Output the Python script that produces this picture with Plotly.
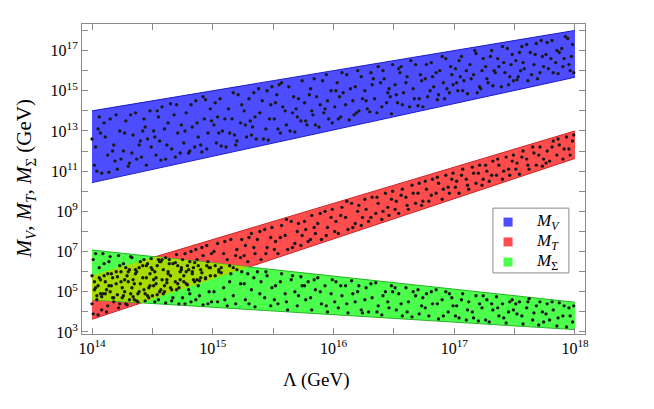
import numpy as np
import plotly.graph_objects as go

# band ends in log10(Lambda / GeV) and log10(M / GeV)
lam_ends = [14.0, 18.0]
mv_lo = [10.43, 15.67]
mv_hi = [14.0, 18.0]
mt_lo = [3.63, 11.63]
mt_hi = [5.8, 13.0]
ms_lo = [4.6, 3.12]
ms_hi = [7.08, 4.48]

# scan points (log10 Lambda, log10 M)
mv_pts = [
    (14.02, 11.3), (14.05, 13.1), (14.03, 12.2), (14.08, 10.9), (14.11, 12.7), (14.13, 11.8),
    (14.15, 13.6), (14.18, 12.3), (14.21, 11.1), (14.23, 13.0), (14.06, 13.7), (14.19, 11.5),
    (14.26, 12.0), (14.28, 13.5), (14.31, 11.4), (14.34, 12.8), (14.36, 13.9), (14.39, 12.3),
    (14.41, 11.7), (14.44, 13.2), (14.46, 12.6), (14.48, 14.0), (14.33, 11.9), (14.43, 13.6),
    (14.51, 13.0), (14.53, 11.8), (14.56, 12.5), (14.58, 14.2), (14.61, 11.6), (14.63, 13.4),
    (14.66, 12.1), (14.68, 13.8), (14.71, 12.9), (14.73, 11.9), (14.55, 13.7), (14.70, 14.3),
    (14.76, 12.4), (14.78, 13.9), (14.81, 12.0), (14.83, 13.2), (14.86, 14.5), (14.88, 12.7),
    (14.91, 11.95), (14.93, 13.6), (14.96, 12.9), (14.98, 14.1), (14.85, 12.2), (14.94, 14.55),
    (15.01, 13.3), (15.03, 12.4), (15.06, 14.6), (15.08, 13.0), (15.11, 12.2), (15.13, 14.1),
    (15.16, 13.6), (15.18, 12.8), (15.21, 14.8), (15.23, 13.4), (15.05, 12.9), (15.19, 12.3),
    (15.26, 14.0), (15.28, 12.7), (15.31, 13.5), (15.34, 14.9), (15.36, 12.6), (15.39, 13.9),
    (15.41, 14.5), (15.44, 13.1), (15.46, 12.55), (15.48, 14.3), (15.33, 13.2), (15.45, 15.0),
    (15.51, 13.6), (15.53, 14.8), (15.56, 12.9), (15.58, 14.2), (15.61, 13.3), (15.63, 15.2),
    (15.66, 13.9), (15.68, 12.95), (15.71, 14.6), (15.73, 13.5), (15.55, 15.3), (15.69, 14.1),
    (15.76, 14.4), (15.78, 13.3), (15.81, 15.1), (15.83, 13.8), (15.86, 14.7), (15.88, 13.2),
    (15.91, 15.5), (15.93, 14.1), (15.96, 13.6), (15.98, 15.0), (15.84, 15.6), (15.95, 14.5),
    (16.01, 14.2), (16.03, 15.4), (16.06, 13.7), (16.08, 14.9), (16.11, 15.8), (16.13, 13.55),
    (16.16, 14.5), (16.18, 15.2), (16.21, 14.0), (16.23, 15.7), (16.05, 14.7), (16.19, 13.9),
    (16.26, 15.0), (16.28, 14.1), (16.31, 15.9), (16.34, 14.6), (16.36, 13.9), (16.39, 15.4),
    (16.41, 16.0), (16.44, 14.4), (16.46, 15.1), (16.48, 13.85), (16.33, 15.6), (16.45, 14.9),
    (16.51, 15.3), (16.53, 14.4), (16.56, 16.2), (16.58, 14.9), (16.61, 15.7), (16.63, 14.2),
    (16.66, 15.1), (16.68, 16.3), (16.71, 14.6), (16.73, 15.5), (16.55, 15.9), (16.70, 14.25),
    (16.76, 15.6), (16.78, 14.7), (16.81, 16.4), (16.83, 15.2), (16.86, 14.55), (16.88, 16.0),
    (16.91, 15.4), (16.93, 16.6), (16.96, 14.9), (16.98, 15.8), (16.85, 15.9), (16.94, 15.1),
    (17.01, 16.1), (17.03, 15.0), (17.06, 16.7), (17.08, 15.5), (17.11, 14.85), (17.13, 16.3),
    (17.16, 15.8), (17.18, 16.85), (17.21, 15.2), (17.23, 16.0), (17.05, 15.7), (17.19, 14.9),
    (17.26, 16.2), (17.28, 15.4), (17.31, 17.0), (17.34, 15.9), (17.36, 16.6), (17.39, 15.2),
    (17.41, 16.4), (17.44, 17.1), (17.46, 15.7), (17.48, 16.8), (17.33, 16.0), (17.45, 15.3),
    (17.51, 16.5), (17.53, 15.7), (17.56, 17.2), (17.58, 16.1), (17.61, 15.5), (17.63, 16.9),
    (17.66, 16.3), (17.68, 17.35), (17.71, 15.9), (17.73, 16.7), (17.55, 16.0), (17.69, 15.6),
    (17.76, 16.8), (17.78, 16.1), (17.81, 17.5), (17.84, 16.4), (17.86, 15.85), (17.89, 17.1),
    (17.91, 16.6), (17.94, 17.6), (17.96, 16.0), (17.98, 17.3), (17.85, 17.0), (17.95, 16.3),
    (14.00, 12.6), (14.04, 11.0), (14.07, 12.9), (14.10, 13.4), (14.14, 10.95), (14.17, 12.0),
    (14.20, 13.8), (14.24, 11.6), (14.27, 12.9), (14.30, 11.25), (14.32, 13.8), (14.37, 11.6),
    (14.40, 12.5), (14.42, 13.0), (14.45, 11.3), (14.49, 12.2), (14.52, 12.7), (14.54, 14.0),
    (14.57, 11.55), (14.60, 13.1), (14.62, 12.3), (14.65, 14.35), (14.69, 11.7), (14.74, 13.3),
    (14.77, 13.0), (14.80, 11.9), (14.82, 14.3), (14.87, 13.4), (14.90, 12.3), (14.92, 14.7),
    (14.95, 12.1), (14.99, 13.5), (15.02, 14.4), (15.04, 13.7), (15.07, 12.25), (15.10, 13.6),
    (15.14, 12.9), (15.17, 14.9), (15.20, 12.5), (15.24, 14.3), (15.27, 13.3), (15.30, 14.6),
    (15.32, 12.8), (15.35, 13.7), (15.38, 15.1), (15.42, 12.6), (15.47, 13.6), (15.49, 15.2),
    (15.52, 14.4), (15.54, 13.1), (15.57, 15.4), (15.60, 14.0), (15.64, 13.0), (15.67, 14.7),
    (15.70, 13.7), (15.74, 15.5), (15.77, 13.5), (15.80, 14.8), (15.82, 14.0), (15.85, 13.3),
    (15.89, 14.3), (15.92, 13.9), (15.94, 15.8), (15.99, 13.4), (16.02, 15.0), (16.04, 13.6),
    (16.07, 15.9), (16.10, 14.3), (16.14, 15.1), (16.17, 13.8), (16.20, 16.0), (16.24, 14.6),
    (16.27, 14.5), (16.30, 13.95), (16.32, 15.3), (16.37, 16.2), (16.40, 14.2), (16.42, 15.6),
    (16.47, 14.7), (16.49, 16.3), (16.52, 14.8), (16.54, 16.1), (16.57, 14.3), (16.60, 15.4),
    (16.64, 16.5), (16.67, 14.6), (16.72, 15.8), (16.74, 14.2), (16.77, 16.3), (16.80, 15.0),
    (16.82, 15.7), (16.87, 14.8), (16.90, 16.7), (16.92, 14.6), (16.97, 16.2), (16.99, 15.3),
    (17.02, 15.4), (17.04, 16.5), (17.07, 15.0), (17.10, 16.0), (17.14, 15.6), (17.17, 17.0),
    (17.22, 15.1), (17.24, 16.6), (17.27, 15.6), (17.30, 16.7), (17.32, 15.25), (17.37, 16.2),
    (17.40, 17.2), (17.42, 15.9), (17.47, 16.3), (17.49, 15.5), (17.52, 15.55), (17.54, 16.9),
    (17.57, 16.4), (17.60, 17.3), (17.64, 15.8), (17.67, 16.8), (17.72, 17.5), (17.74, 16.2),
    (17.77, 17.4), (17.80, 16.6), (17.82, 15.9), (17.87, 16.9), (17.90, 16.2), (17.92, 17.7),
    (17.97, 16.7), (17.99, 15.9),
]

mt_pts = [
    (14.01, 3.9), (14.03, 5.2), (14.04, 4.6), (14.06, 5.7), (14.08, 4.1), (14.09, 4.9), (14.11, 5.5),
    (14.13, 4.3), (14.15, 5.0), (14.16, 5.9), (14.18, 4.5), (14.20, 5.4), (14.22, 4.2), (14.24, 6.0),
    (14.26, 4.8), (14.27, 5.6), (14.29, 4.35), (14.31, 6.1), (14.33, 5.2), (14.35, 4.6), (14.36, 5.9),
    (14.38, 4.5), (14.40, 5.4), (14.42, 6.3), (14.44, 4.9), (14.45, 5.7), (14.47, 4.7), (14.49, 6.2),
    (14.51, 5.3), (14.52, 6.0), (14.54, 4.85), (14.56, 6.5), (14.58, 5.6), (14.60, 5.0), (14.61, 6.7),
    (14.63, 5.9), (14.65, 5.2), (14.67, 6.4), (14.69, 5.5), (14.70, 6.85), (14.72, 5.2), (14.74, 6.1),
    (14.76, 5.8), (14.77, 6.9), (14.79, 5.35), (14.81, 6.5), (14.83, 6.0), (14.85, 5.5), (14.86, 7.1),
    (14.88, 6.3), (14.90, 5.7), (14.92, 6.8), (14.94, 5.65), (14.95, 7.3), (14.97, 6.2), (14.99, 6.9),
    (15.02, 6.3), (15.04, 7.4), (15.07, 5.95), (15.09, 6.9), (15.12, 6.6), (15.15, 7.6), (15.17, 6.2),
    (15.20, 7.1), (15.23, 6.7), (15.27, 7.3), (15.29, 6.5), (15.32, 7.9), (15.35, 6.9), (15.37, 7.6),
    (15.40, 6.6), (15.43, 8.1), (15.45, 7.2), (15.48, 7.7), (15.52, 7.5), (15.54, 6.9), (15.57, 8.3),
    (15.60, 7.8), (15.62, 7.1), (15.65, 8.5), (15.68, 7.4), (15.70, 8.0), (15.73, 7.3), (15.77, 8.1),
    (15.79, 7.5), (15.82, 8.8), (15.85, 7.9), (15.87, 8.4), (15.90, 7.6), (15.93, 9.0), (15.95, 8.2),
    (15.98, 8.7), (16.02, 8.5), (16.04, 7.9), (16.07, 9.2), (16.10, 8.7), (16.12, 8.1), (16.15, 9.4),
    (16.18, 8.4), (16.20, 9.0), (16.23, 8.3), (16.27, 9.1), (16.29, 8.5), (16.32, 9.7), (16.35, 8.9),
    (16.37, 9.4), (16.40, 8.6), (16.43, 9.9), (16.45, 9.2), (16.48, 9.6), (16.52, 9.5), (16.54, 8.9),
    (16.57, 10.1), (16.60, 9.7), (16.62, 9.1), (16.65, 10.3), (16.68, 9.4), (16.70, 9.9), (16.73, 9.3),
    (16.77, 10.1), (16.79, 9.5), (16.82, 10.6), (16.85, 9.9), (16.87, 10.4), (16.90, 9.6), (16.93, 10.8),
    (16.95, 10.2), (16.98, 10.6), (17.02, 10.5), (17.04, 9.9), (17.07, 11.1), (17.10, 10.6), (17.12, 10.1),
    (17.15, 11.2), (17.18, 10.4), (17.20, 10.9), (17.23, 10.3), (17.27, 11.0), (17.29, 10.5), (17.32, 11.5),
    (17.35, 10.8), (17.37, 11.3), (17.40, 10.6), (17.43, 11.7), (17.45, 11.1), (17.48, 11.5), (17.52, 11.4),
    (17.54, 10.85), (17.57, 12.0), (17.60, 11.6), (17.62, 11.1), (17.65, 12.2), (17.68, 11.3), (17.70, 11.8),
    (17.73, 11.25), (17.77, 12.0), (17.79, 11.5), (17.82, 12.5), (17.85, 11.8), (17.87, 12.3), (17.90, 11.6),
    (17.93, 12.7), (17.95, 12.1), (17.98, 12.5),
    (14.00, 4.4), (14.02, 5.5), (14.05, 3.85), (14.07, 4.9), (14.10, 5.8), (14.12, 4.0), (14.14, 5.3),
    (14.17, 4.7), (14.21, 5.75), (14.23, 4.4), (14.25, 5.2), (14.28, 4.4), (14.30, 6.0), (14.32, 4.9),
    (14.34, 5.6), (14.37, 4.55), (14.39, 6.2), (14.43, 5.1), (14.46, 6.4), (14.48, 5.3), (14.50, 4.8),
    (14.53, 5.7), (14.55, 6.6), (14.57, 5.1), (14.59, 6.1), (14.62, 5.45), (14.64, 6.6), (14.66, 5.1),
    (14.71, 6.3), (14.73, 5.6), (14.75, 6.6), (14.78, 5.4), (14.80, 6.1), (14.82, 7.0), (14.84, 5.6),
    (14.87, 6.6), (14.89, 5.55), (14.91, 7.2), (14.96, 6.5), (14.98, 5.8), (15.01, 7.0), (15.05, 6.0),
    (15.10, 7.5), (15.14, 6.3), (15.19, 6.8), (15.24, 7.6), (15.26, 6.8), (15.30, 7.7), (15.34, 7.2),
    (15.39, 8.0), (15.44, 6.9), (15.49, 8.2), (15.51, 7.1), (15.56, 7.7), (15.61, 8.6), (15.66, 7.2),
    (15.71, 8.4), (15.74, 7.8), (15.76, 8.5), (15.81, 7.6), (15.84, 8.2), (15.89, 8.9), (15.94, 7.8),
    (15.99, 9.1), (16.01, 8.0), (16.06, 8.8), (16.11, 9.5), (16.16, 8.2), (16.21, 9.3), (16.24, 8.7),
    (16.26, 9.6), (16.31, 8.7), (16.36, 9.7), (16.41, 9.0), (16.46, 8.8), (16.49, 10.0), (16.51, 9.1),
    (16.56, 9.8), (16.61, 9.3), (16.66, 9.9), (16.71, 10.4), (16.74, 9.5), (16.76, 10.5), (16.81, 9.8),
    (16.86, 10.7), (16.91, 10.1), (16.96, 9.9), (16.99, 10.9), (17.01, 10.2), (17.06, 10.8), (17.11, 10.3),
    (17.16, 10.9), (17.21, 11.3), (17.24, 10.6), (17.26, 11.3), (17.31, 10.8), (17.36, 11.6), (17.41, 11.0),
    (17.46, 10.8), (17.49, 11.8), (17.51, 11.1), (17.56, 11.7), (17.61, 11.3), (17.66, 11.9), (17.71, 12.2),
    (17.74, 11.6), (17.76, 11.4), (17.81, 12.2), (17.86, 12.6), (17.91, 12.1), (17.96, 11.8), (17.99, 12.8),
]

ms_pts = [
    (14.01, 6.6), (14.02, 5.1), (14.04, 4.8), (14.06, 6.2), (14.07, 5.6), (14.09, 6.9), (14.11, 4.9),
    (14.13, 5.9), (14.14, 6.5), (14.16, 5.3), (14.18, 4.7), (14.20, 6.0), (14.22, 6.8), (14.24, 5.5),
    (14.26, 6.4), (14.27, 5.0), (14.29, 5.8), (14.31, 4.6), (14.33, 6.7), (14.35, 5.4), (14.36, 6.1),
    (14.38, 4.9), (14.40, 6.5), (14.42, 5.7), (14.44, 4.55), (14.45, 6.3), (14.47, 5.2), (14.49, 6.65),
    (14.51, 5.6), (14.52, 4.5), (14.54, 6.3), (14.56, 5.0), (14.58, 6.6), (14.60, 5.3), (14.61, 4.45),
    (14.63, 6.0), (14.65, 5.8), (14.67, 4.7), (14.69, 6.45), (14.70, 5.1), (14.72, 4.4), (14.74, 6.2),
    (14.76, 5.5), (14.77, 4.4), (14.79, 6.3), (14.81, 4.9), (14.83, 5.9), (14.85, 6.45), (14.86, 4.6),
    (14.88, 5.3), (14.90, 6.1), (14.92, 4.35), (14.94, 5.7), (14.95, 6.3), (14.97, 5.0), (14.99, 4.5),
    (15.02, 5.8), (15.04, 4.5), (15.07, 6.2), (15.09, 5.2), (15.12, 4.3), (15.15, 5.9), (15.17, 4.8),
    (15.20, 6.1), (15.23, 5.4), (15.27, 4.6), (15.29, 5.9), (15.32, 5.1), (15.35, 4.25), (15.37, 6.0),
    (15.40, 5.5), (15.43, 4.7), (15.45, 5.8), (15.48, 4.3), (15.52, 5.3), (15.54, 4.4), (15.57, 5.9),
    (15.60, 4.9), (15.62, 4.1), (15.65, 5.6), (15.68, 5.0), (15.70, 4.3), (15.73, 5.75), (15.77, 4.6),
    (15.79, 5.5), (15.82, 4.1), (15.85, 5.1), (15.87, 5.7), (15.90, 4.4), (15.93, 5.3), (15.95, 4.0),
    (15.98, 4.9), (16.02, 5.5), (16.04, 4.2), (16.07, 4.8), (16.10, 5.3), (16.12, 3.95), (16.15, 5.55),
    (16.18, 4.5), (16.20, 5.0), (16.23, 4.1), (16.27, 5.2), (16.29, 4.0), (16.32, 4.7), (16.35, 5.45),
    (16.37, 4.3), (16.40, 3.85), (16.43, 5.0), (16.45, 4.5), (16.48, 5.3), (16.52, 4.1), (16.54, 4.9),
    (16.57, 3.8), (16.60, 5.2), (16.62, 4.5), (16.65, 3.75), (16.68, 4.8), (16.70, 5.1), (16.73, 4.3),
    (16.77, 4.9), (16.79, 3.8), (16.82, 4.4), (16.85, 5.1), (16.87, 3.65), (16.90, 4.6), (16.93, 5.0),
    (16.95, 4.0), (16.98, 4.7), (17.02, 4.3), (17.04, 3.7), (17.07, 4.9), (17.10, 3.6), (17.12, 4.5),
    (17.15, 4.0), (17.18, 4.8), (17.20, 3.55), (17.23, 4.2), (17.27, 4.6), (17.29, 3.5), (17.32, 4.1),
    (17.35, 4.75), (17.37, 3.8), (17.40, 4.4), (17.43, 3.45), (17.45, 4.0), (17.48, 4.6), (17.52, 3.9),
    (17.54, 4.5), (17.57, 3.4), (17.60, 4.2), (17.62, 4.65), (17.65, 3.6), (17.68, 4.3), (17.70, 3.35),
    (17.73, 4.0), (17.77, 4.4), (17.79, 3.6), (17.82, 4.1), (17.85, 3.3), (17.87, 4.45), (17.90, 3.8),
    (17.93, 3.25), (17.95, 4.2), (17.98, 3.5),
    (14.00, 5.8), (14.03, 6.9), (14.05, 5.3), (14.08, 4.75), (14.10, 6.4), (14.12, 5.1), (14.15, 6.75),
    (14.17, 5.7), (14.21, 4.85), (14.23, 6.3), (14.25, 4.7), (14.28, 6.2), (14.30, 5.5), (14.32, 6.75),
    (14.34, 4.75), (14.37, 6.0), (14.39, 5.0), (14.43, 6.6), (14.46, 4.8), (14.48, 5.9), (14.50, 6.1),
    (14.53, 5.4), (14.55, 4.6), (14.57, 6.5), (14.59, 4.9), (14.62, 5.6), (14.64, 6.4), (14.66, 4.55),
    (14.71, 5.4), (14.73, 6.0), (14.75, 4.7), (14.78, 6.0), (14.80, 5.1), (14.82, 4.5), (14.84, 6.2),
    (14.87, 5.6), (14.89, 4.8), (14.91, 5.95), (14.96, 4.4), (14.98, 6.2), (15.01, 5.0), (15.05, 6.1),
    (15.10, 4.6), (15.14, 5.5), (15.19, 4.4), (15.24, 6.0), (15.26, 5.4), (15.30, 4.4), (15.34, 5.7),
    (15.39, 4.9), (15.44, 6.0), (15.49, 5.2), (15.51, 4.6), (15.56, 5.5), (15.61, 4.5), (15.66, 5.8),
    (15.71, 4.8), (15.74, 5.3), (15.76, 5.3), (15.81, 4.7), (15.84, 5.6), (15.89, 5.0), (15.94, 4.3),
    (15.99, 5.6), (16.01, 4.5), (16.06, 5.3), (16.11, 4.4), (16.16, 4.9), (16.21, 5.3), (16.24, 3.95),
    (16.26, 4.6), (16.31, 5.4), (16.36, 4.0), (16.41, 4.8), (16.46, 4.2), (16.49, 5.0), (16.51, 5.2),
    (16.56, 4.4), (16.61, 4.0), (16.66, 5.0), (16.71, 3.9), (16.74, 4.7), (16.76, 4.2), (16.81, 5.0),
    (16.86, 4.4), (16.91, 3.8), (16.96, 4.9), (16.99, 4.3), (17.01, 3.8), (17.06, 4.6), (17.11, 4.1),
    (17.16, 3.7), (17.21, 4.4), (17.24, 4.8), (17.26, 3.6), (17.31, 4.4), (17.36, 4.2), (17.41, 3.7),
    (17.46, 4.5), (17.49, 4.1), (17.51, 4.4), (17.56, 3.8), (17.61, 4.5), (17.66, 3.95), (17.71, 4.5),
    (17.74, 3.5), (17.76, 3.9), (17.81, 4.5), (17.86, 3.7), (17.91, 4.3), (17.96, 3.8), (17.99, 4.3),
]

legend_labels = ["<i>M</i><sub><i>V</i></sub>", "<i>M</i><sub><i>T</i></sub>", "<i>M</i><sub>Σ</sub>"]
legend_colors = ["#4d4dff", "#ff4d4d", "#4dff4d"]

serif = "Liberation Serif, Times New Roman, serif"
fig = go.Figure()


def add_band(lo, hi, fillcolor, edgecolor):
    xs = [10 ** v for v in lam_ends]
    fig.add_trace(go.Scatter(
        x=xs + xs[::-1],
        y=[10 ** lo[0], 10 ** lo[1], 10 ** hi[1], 10 ** hi[0]],
        fill="toself", fillcolor=fillcolor, mode="lines",
        line=dict(width=0), hoverinfo="skip", showlegend=False))
    for edge in (lo, hi):
        fig.add_trace(go.Scatter(
            x=xs, y=[10 ** v for v in edge], mode="lines",
            line=dict(color=edgecolor, width=1), hoverinfo="skip", showlegend=False))


add_band(mv_lo, mv_hi, "#4d4dff", "#1c1cc8")
add_band(mt_lo, mt_hi, "#ff4d4d", "#c82828")
add_band(ms_lo, ms_hi, "#4dff4d", "#23b423")

# overlap of the M_T and M_Sigma bands
grid = np.linspace(lam_ends[0], lam_ends[1], 801)
low = np.maximum(np.interp(grid, lam_ends, mt_lo), np.interp(grid, lam_ends, ms_lo))
upp = np.minimum(np.interp(grid, lam_ends, mt_hi), np.interp(grid, lam_ends, ms_hi))
m = low < upp
fig.add_trace(go.Scatter(
    x=10 ** np.concatenate([grid[m], grid[m][::-1]]),
    y=10 ** np.concatenate([low[m], upp[m][::-1]]),
    fill="toself", fillcolor="#a6dc00", mode="lines", line=dict(width=0),
    hoverinfo="skip", showlegend=False))

for pts in (mv_pts, mt_pts, ms_pts):
    fig.add_trace(go.Scatter(
        x=[10 ** p[0] for p in pts], y=[10 ** p[1] for p in pts], mode="markers",
        marker=dict(color="#1a1a1a", size=3.4, line=dict(width=0)),
        hoverinfo="skip", showlegend=False))

x_exp = [14, 14.5, 15, 15.5, 16, 16.5, 17, 17.5, 18]
y_exp = list(range(3, 19))

axis_common = dict(
    type="log", showline=True, linecolor="#8a8a8a", linewidth=1, mirror="ticks",
    ticks="inside", ticklen=6, tickcolor="#8a8a8a", showgrid=False, zeroline=False,
    automargin=False, tickfont=dict(family=serif, size=16, color="black"),
)

# legend box drawn by hand (paper coordinates)
shapes = [dict(type="rect", xref="paper", yref="paper", x0=0.817, x1=0.968,
               y0=0.197, y1=0.406, line=dict(color="#8a8a8a", width=1),
               fillcolor="white", layer="above")]
annotations = [
    dict(text="Λ (GeV)", xref="paper", yref="paper", x=0.467, y=-0.148,
         xanchor="center", yanchor="middle", showarrow=False,
         font=dict(family=serif, size=19)),
    dict(text="<i>M</i><sub><i>V</i></sub>, <i>M</i><sub><i>T</i></sub>, "
              "<i>M</i><sub>Σ</sub> (GeV)",
         xref="paper", yref="paper", x=-0.113, y=0.5, textangle=-90,
         xanchor="center", yanchor="middle", showarrow=False,
         font=dict(family=serif, size=21)),
]
row_y = [0.361, 0.297, 0.232]
for label, col, yy in zip(legend_labels, legend_colors, row_y):
    shapes.append(dict(type="rect", xref="paper", yref="paper",
                       x0=0.838, x1=0.856, y0=yy - 0.0145, y1=yy + 0.0145,
                       line=dict(width=0), fillcolor=col, layer="above"))
    annotations.append(dict(text=label, xref="paper", yref="paper", x=0.899, y=yy,
                            xanchor="left", yanchor="middle", showarrow=False,
                            font=dict(family=serif, size=17)))

# the page body adds an 8 px offset, so the figure is 8 px smaller than the window
fig.update_layout(
    width=646, height=401,
    margin=dict(l=74, r=69, t=16, b=75),
    paper_bgcolor="white", plot_bgcolor="white",
    font=dict(family=serif, color="black"),
    showlegend=False,
    xaxis=dict(
        range=[13.917, 18.083],
        tickvals=[10 ** e for e in x_exp],
        ticktext=["10<sup>%d</sup>" % e if e == int(e) else "" for e in x_exp],
        **axis_common),
    yaxis=dict(
        range=[2.9, 18.32],
        tickvals=[10 ** e for e in y_exp],
        ticktext=["10<sup>%d</sup>" % e if e % 2 == 1 else "" for e in y_exp],
        **axis_common),
    shapes=shapes,
    annotations=annotations,
)

fig.write_html("out.html")
